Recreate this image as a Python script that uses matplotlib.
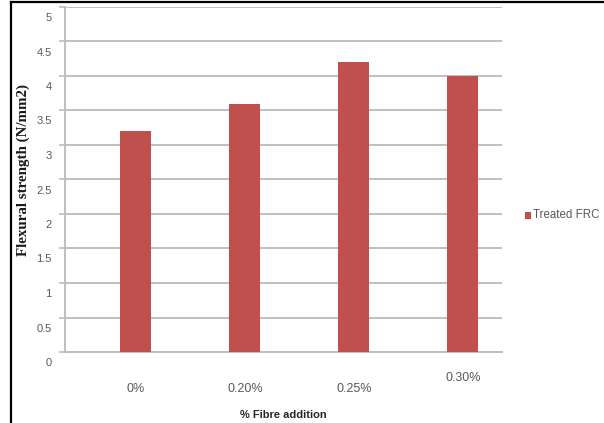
import matplotlib
matplotlib.use("Agg")
import matplotlib.pyplot as plt
from matplotlib.transforms import ScaledTranslation
from matplotlib.lines import Line2D
from matplotlib.patches import Rectangle

categories = ["0%", "0.20%", "0.25%", "0.30%"]
values = [3.2, 3.6, 4.2, 4.0]
series_name = "Treated FRC"
yticks = [0, 0.5, 1, 1.5, 2, 2.5, 3, 3.5, 4, 4.5, 5]
ytick_labels = ["0", "0.5", "1", "1.5", "2", "2.5", "3", "3.5", "4", "4.5", "5"]

bar_color = "#c0504d"
grid_color = "#bfbfbf"
text_color = "#595959"

fig = plt.figure(figsize=(6.04, 4.23), dpi=100)
ax = fig.add_axes([65/604, 1-352/423, (502-65)/604, (352-7)/423])

x = list(range(len(categories)))
ax.bar(x, values, width=0.284, color=bar_color, zorder=3, label=series_name)
ax.set_xlim(-0.65, len(categories) - 0.64)
ax.set_ylim(0, 5)
ax.set_yticks(yticks)
ax.set_yticklabels(ytick_labels, fontsize=8, color=text_color, family="Liberation Sans")
ax.yaxis.grid(True, color=grid_color, linewidth=1.4, zorder=0)
ax.set_axisbelow(True)
for s in ["top", "right"]:
    ax.spines[s].set_visible(False)
ax.spines["left"].set_color(grid_color)
ax.spines["left"].set_linewidth(1.4)
ax.spines["bottom"].set_color(grid_color)
ax.spines["bottom"].set_linewidth(1.4)
ax.tick_params(axis="y", length=4, color=grid_color, width=1.2, pad=5.5)
ax.tick_params(axis="x", length=0, pad=22)
ax.set_xticks(x)
ax.set_xticklabels(categories, fontsize=9, color=text_color, family="Liberation Sans")

for lab in ax.get_yticklabels():
    lab.set_transform(lab.get_transform() + ScaledTranslation(0, -0.10, fig.dpi_scale_trans))
xl = ax.get_xticklabels()
xl[3].set_transform(xl[3].get_transform() + ScaledTranslation(0, 0.11, fig.dpi_scale_trans))

fig.text(23/604, 1-170/423, "Flexural strength (N/mm2)", rotation=90, ha="center", va="center",
         fontsize=10.8, fontweight="bold", family="Liberation Serif", color="#1a1a1a")
fig.text(283/604, 1-415/423, "% Fibre addition", ha="center", va="center",
         fontsize=8, fontweight="bold", family="Liberation Sans", color="#262626")

# legend
fig.add_artist(Rectangle((525/604, 1-219/423), 6/604, 7/423, transform=fig.transFigure,
                         facecolor=bar_color, edgecolor="none"))
fig.text(533/604, 1-215/423, series_name, ha="left", va="center", fontsize=8.3,
         color=text_color, family="Liberation Sans")

# outer border (left and top visible)
fig.add_artist(Line2D([11/604, 11/604], [0, 1-2/423], transform=fig.transFigure, color="black", linewidth=1.6))
fig.add_artist(Line2D([11/604, 1], [1-2/423, 1-2/423], transform=fig.transFigure, color="black", linewidth=1.6))

fig.savefig("out.png", dpi=100)
